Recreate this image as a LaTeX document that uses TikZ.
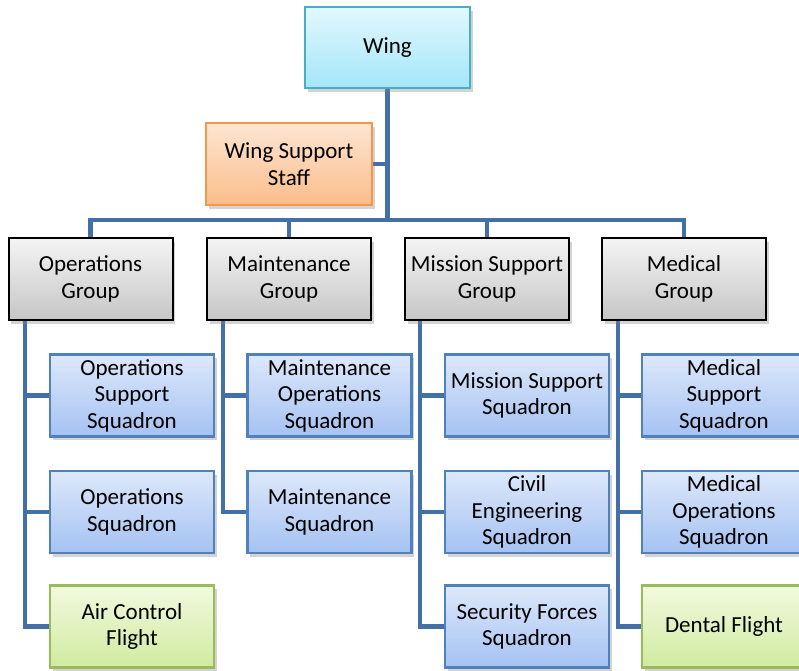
\documentclass[tikz,border=0pt]{standalone}
\usepackage{fontspec}
\setmainfont{Carlito}
\usetikzlibrary{shadows,backgrounds}
\definecolor{connC}{HTML}{4470A8}
\definecolor{wingTop}{HTML}{E2F8FE}
\definecolor{wingBot}{HTML}{A4E6F8}
\definecolor{wingLine}{HTML}{4BACC6}
\definecolor{staffTop}{HTML}{FDE6D3}
\definecolor{staffBot}{HTML}{FABD8A}
\definecolor{staffLine}{HTML}{F79646}
\definecolor{grpTop}{HTML}{F4F4F4}
\definecolor{grpBot}{HTML}{C6C6C6}
\definecolor{sqTop}{HTML}{DDE8FA}
\definecolor{sqBot}{HTML}{A5C2F2}
\definecolor{sqLine}{HTML}{4F81BD}
\definecolor{flTop}{HTML}{F2F9DF}
\definecolor{flBot}{HTML}{D0EBA0}
\definecolor{flLine}{HTML}{9BBB59}
\tikzset{
  box/.style={rectangle, align=center, inner sep=0pt,
    minimum width=164pt, minimum height=82pt,
    font=\fontsize{23}{26.5}\selectfont,
    drop shadow={shadow xshift=2.5pt, shadow yshift=-3.5pt, opacity=0.35, fill=gray}},
  wingbox/.style={box, draw=wingLine, line width=2.4pt, top color=wingTop, bottom color=wingBot},
  staffbox/.style={box, draw=staffLine, line width=2.4pt, top color=staffTop, bottom color=staffBot},
  groupbox/.style={box, draw=black, line width=2pt, top color=grpTop, bottom color=grpBot},
  sqbox/.style={box, draw=sqLine, line width=2.4pt, top color=sqTop, bottom color=sqBot},
  flightbox/.style={box, draw=flLine, line width=2.4pt, top color=flTop, bottom color=flBot},
  conn/.style={draw=connC, line width=4.5pt}
}
\begin{document}
\begin{tikzpicture}[x=1pt, y=-1pt]
\useasboundingbox (0,0) rectangle (799,670);

\coordinate (busL) at (90.5,220);
\coordinate (busR) at (684,220);

% top level
\node[wingbox, minimum width=165pt, minimum height=81pt] (wing) at (387.5,47.5) {Wing};
\node[staffbox, minimum width=166pt] (wss) at (289,164) {Wing Support\\Staff};

% groups
\node[groupbox] (opsg) at (90.5,279) {Operations\\Group};
\node[groupbox] (mntg) at (289,279) {Maintenance\\Group};
\node[groupbox] (msng) at (487,279) {Mission Support\\Group};
\node[groupbox] (medg) at (684,279) {Medical\\Group};

% operations column
\node[sqbox] (oss) at (132,395.5) {Operations\\Support\\Squadron};
\node[sqbox] (os) at (132,512) {Operations\\Squadron};
\node[flightbox] (acf) at (132,626.5) {Air Control\\Flight};

% maintenance column
\node[sqbox] (mos) at (329.5,395.5) {Maintenance\\Operations\\Squadron};
\node[sqbox] (mxs) at (329.5,512) {Maintenance\\Squadron};

% mission support column
\node[sqbox] (mss) at (527,395.5) {Mission Support\\Squadron};
\node[sqbox] (ces) at (527,512) {Civil\\Engineering\\Squadron};
\node[sqbox] (sfs) at (527,626.5) {Security Forces\\Squadron};

% medical column
\node[sqbox] (mdss) at (724,395.5) {Medical\\Support\\Squadron};
\node[sqbox] (mdos) at (724,512) {Medical\\Operations\\Squadron};
\node[flightbox] (df) at (724,626.5) {Dental Flight};

% spines below each group
\coordinate (opsSp) at ([xshift=17.5pt]opsg.south west);
\coordinate (mntSp) at ([xshift=17pt]mntg.south west);
\coordinate (msnSp) at ([xshift=16pt]msng.south west);
\coordinate (medSp) at ([xshift=17pt]medg.south west);

\begin{pgfonlayer}{background}
% wing trunk and bus
\draw[conn] (wing.south) -- (wing.south |- busL);
\draw[conn] (wss.east) -- (wss.east -| wing.south);
\draw[conn, line cap=rect] (busL) -- (busR);
\foreach \g in {opsg,mntg,msng,medg}
  \draw[conn] (\g.north) -- (\g.north |- busL);

% operations group
\draw[conn] (opsSp) |- (acf.west);
\draw[conn] (opsSp |- oss.west) -- (oss.west);
\draw[conn] (opsSp |- os.west) -- (os.west);

% maintenance group
\draw[conn] (mntSp) |- (mxs.west);
\draw[conn] (mntSp |- mos.west) -- (mos.west);

% mission support group
\draw[conn] (msnSp) |- (sfs.west);
\draw[conn] (msnSp |- mss.west) -- (mss.west);
\draw[conn] (msnSp |- ces.west) -- (ces.west);

% medical group
\draw[conn] (medSp) |- (df.west);
\draw[conn] (medSp |- mdss.west) -- (mdss.west);
\draw[conn] (medSp |- mdos.west) -- (mdos.west);
\end{pgfonlayer}
\end{tikzpicture}
\end{document}
